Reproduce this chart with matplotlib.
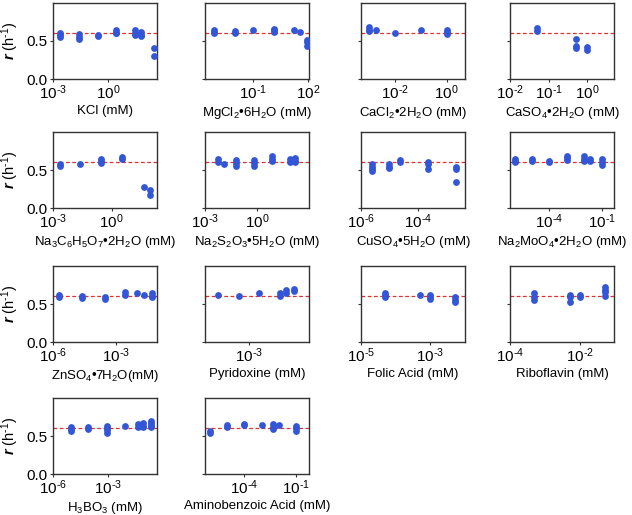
import matplotlib
matplotlib.use("Agg")
import numpy as np
import matplotlib.pyplot as plt
from matplotlib.ticker import FixedLocator, NullLocator, FuncFormatter

plt.rcParams['font.family'] = ['Liberation Sans', 'DejaVu Sans']
plt.rcParams['mathtext.fontset'] = 'custom'
plt.rcParams['mathtext.rm'] = 'Liberation Sans'
plt.rcParams['mathtext.it'] = 'Liberation Sans:italic'
plt.rcParams['mathtext.bf'] = 'Liberation Sans:bold:italic'
plt.rcParams['font.size'] = 9

# Growth rate r (h^-1) vs concentration (mM), replicate values per concentration
control_rate = 0.61

labels = [
    'KCl (mM)',
    'MgCl$_2$\u20226H$_2$O (mM)',
    'CaCl$_2$\u20222H$_2$O (mM)',
    'CaSO$_4$\u20222H$_2$O (mM)',
    'Na$_3$C$_6$H$_5$O$_7$\u20222H$_2$O (mM)',
    'Na$_2$S$_2$O$_3$\u20225H$_2$O (mM)',
    'CuSO$_4$\u20225H$_2$O (mM)',
    'Na$_2$MoO$_4$\u20222H$_2$O (mM)',
    'ZnSO$_4$\u20227H$_2$O(mM)',
    'Pyridoxine (mM)',
    'Folic Acid (mM)',
    'Riboflavin (mM)',
    'H$_3$BO$_3$ (mM)',
    'Aminobenzoic Acid (mM)',
]

kcl_conc = [0.0025, 0.025, 0.28, 2.8, 28, 60, 320]
kcl_rate = [[0.60, 0.58, 0.55], [0.59, 0.55, 0.52], [0.58, 0.56], [0.64, 0.61, 0.60],
            [0.64, 0.61, 0.58], [0.62, 0.58, 0.56], [0.41, 0.30]]

mgcl2_conc = [7e-4, 9e-3, 0.1, 1.35, 17, 35, 93]
mgcl2_rate = [[0.65, 0.62, 0.60], [0.63, 0.60], [0.65], [0.66, 0.64, 0.62],
              [0.64], [0.62], [0.51, 0.49, 0.44]]

cacl2_conc = [0.001, 0.002, 0.01, 0.1, 1]
cacl2_rate = [[0.68, 0.65, 0.63], [0.64], [0.61], [0.64], [0.65, 0.62, 0.59]]

caso4_conc = [0.05, 0.5, 1]
caso4_rate = [[0.665, 0.63], [0.53, 0.44, 0.41], [0.42, 0.38]]

citrate_conc = [0.0022, 0.023, 0.29, 3.3, 43, 87]
citrate_rate = [[0.58, 0.55], [0.58], [0.65, 0.62, 0.59], [0.67, 0.65], [0.28], [0.24, 0.17]]

thiosulf_conc = [0.0056, 0.012, 0.06, 0.65, 6.5, 75, 145]
thiosulf_rate = [[0.64, 0.60], [0.585], [0.63, 0.59, 0.555], [0.63, 0.59, 0.55],
                 [0.68, 0.64, 0.62], [0.64, 0.60], [0.66, 0.62, 0.60]]

cuso4_conc = [2.5e-6, 1e-5, 2.4e-5, 2.3e-4, 2.3e-3]
cuso4_rate = [[0.575, 0.545, 0.51, 0.49], [0.575, 0.545, 0.52], [0.63, 0.61],
              [0.61, 0.585, 0.51], [0.54, 0.51, 0.345]]

namoo4_conc = [1.1e-6, 1.1e-5, 1e-4, 1e-3, 1e-2, 2.1e-2, 1e-1]
namoo4_rate = [[0.65, 0.62, 0.60], [0.65, 0.62], [0.62, 0.60], [0.69, 0.66, 0.63],
               [0.68, 0.65, 0.62], [0.65, 0.62], [0.64, 0.61, 0.57]]

znso4_conc = [2e-6, 2.5e-5, 2.8e-4, 2.5e-3, 9.8e-3, 2e-2, 5.1e-2]
znso4_rate = [[0.625, 0.59], [0.60, 0.575], [0.59, 0.56], [0.655, 0.625],
              [0.65], [0.625], [0.64, 0.61, 0.59]]

pyridox_conc = [1.1e-4, 5e-4, 2.1e-3, 9e-3, 1.4e-2, 2.4e-2]
pyridox_rate = [[0.625], [0.60], [0.64], [0.65, 0.61], [0.68, 0.65], [0.70, 0.665]]

folic_conc = [5e-5, 5e-4, 1e-3, 5e-3]
folic_rate = [[0.65, 0.625, 0.595], [0.62], [0.62, 0.59, 0.56], [0.595, 0.55, 0.52]]

ribo_conc = [5e-4, 5e-3, 1e-2, 5e-2]
ribo_rate = [[0.64, 0.595, 0.55], [0.62, 0.59, 0.53], [0.62, 0.595], [0.72, 0.68, 0.66, 0.61]]

h3bo3_conc = [9.3e-6, 8.3e-5, 8.7e-4, 8.5e-3, 4e-2, 8.3e-2, 0.2]
h3bo3_rate = [[0.62, 0.59, 0.56], [0.62, 0.59], [0.63, 0.60, 0.575, 0.54], [0.635],
              [0.655, 0.615], [0.665, 0.635, 0.62], [0.70, 0.675, 0.645, 0.62]]

paba_conc = [1e-6, 1e-5, 1e-4, 1e-3, 4.7e-3, 1e-2, 1e-1]
paba_rate = [[0.565, 0.545], [0.65, 0.625], [0.66, 0.64], [0.65],
             [0.66, 0.625, 0.595], [0.65], [0.635, 0.60, 0.565]]

concs = [kcl_conc, mgcl2_conc, cacl2_conc, caso4_conc, citrate_conc, thiosulf_conc,
         cuso4_conc, namoo4_conc, znso4_conc, pyridox_conc, folic_conc, ribo_conc,
         h3bo3_conc, paba_conc]
rates = [kcl_rate, mgcl2_rate, cacl2_rate, caso4_rate, citrate_rate, thiosulf_rate,
         cuso4_rate, namoo4_rate, znso4_rate, pyridox_rate, folic_rate, ribo_rate,
         h3bo3_rate, paba_rate]

# x ranges and labelled ticks of each panel
xlims = [(1e-3, 470), (2.1e-4, 117), (5.1e-4, 5.1), (1e-2, 4.9),
         (1e-3, 209), (1e-3, 890), (1e-6, 4.6e-3), (5.8e-7, 0.5),
         (1e-6, 0.087), (4.5e-5, 0.071), (1e-5, 1e-2), (1e-4, 0.093),
         (1e-6, 0.45), (5.2e-7, 0.55)]
xticks = [[1e-3, 1e0], [1e-1, 1e2], [1e-2, 1e0], [1e-2, 1e-1, 1e0],
          [1e-3, 1e0], [1e-3, 1e0], [1e-6, 1e-4], [1e-4, 1e-1],
          [1e-6, 1e-3], [1e-3], [1e-5, 1e-3], [1e-4, 1e-2],
          [1e-6, 1e-3], [1e-4, 1e-1]]


# 10^n labels with a plain hyphen like the original figure
def pow10(x, pos):
    n = int(round(np.log10(x)))
    if n < 0:
        return r'$10^{\text{-}%d}$' % (-n)
    return r'$10^{%d}$' % n


W, H = 632, 515
fig = plt.figure(figsize=(W / 100, H / 100), dpi=100)

col_left = [53, 205, 361, 510]
row_bottom = [79, 208, 342, 474]
ax_w, ax_h = 104, 76

dot_color = '#3356d6'
line_color = '#e03030'
edge = '#333333'

for i in range(len(labels)):
    r, c = divmod(i, 4)
    ax = fig.add_axes([col_left[c] / W, 1 - row_bottom[r] / H, ax_w / W, ax_h / H])
    ax.set_xscale('log')
    for x, reps in zip(concs[i], rates[i]):
        ax.scatter([x] * len(reps), reps, s=24, color=dot_color, zorder=3, linewidths=0)
    ax.axhline(control_rate, color=line_color, ls='--', lw=0.9, dashes=(3, 2), zorder=2)
    ax.set_xlim(*xlims[i])
    ax.set_ylim(0, 1.0)
    ax.xaxis.set_major_locator(FixedLocator(xticks[i]))
    ax.xaxis.set_major_formatter(FuncFormatter(pow10))
    ax.xaxis.set_minor_locator(NullLocator())
    ax.set_yticks([0.0, 0.5])
    ax.tick_params(direction='out', length=2.5, width=0.8, color=edge, labelsize=11)
    ax.tick_params(axis='x', pad=0.5)
    ax.tick_params(axis='y', pad=1.5)
    for s in ax.spines.values():
        s.set_color(edge)
        s.set_linewidth(1.0)
    ax.set_xlabel(labels[i], fontsize=9.5, labelpad=2)
    if c == 0:
        ax.set_yticklabels(['0.0', '0.5'])
        ax.set_ylabel(r'$\mathbf{r}$ (h$^{\text{-}1}$)', fontsize=10.5)
        ax.yaxis.set_label_coords(-0.31, 0.5)
    else:
        ax.set_yticklabels([])

fig.savefig('out.png', dpi=100)
